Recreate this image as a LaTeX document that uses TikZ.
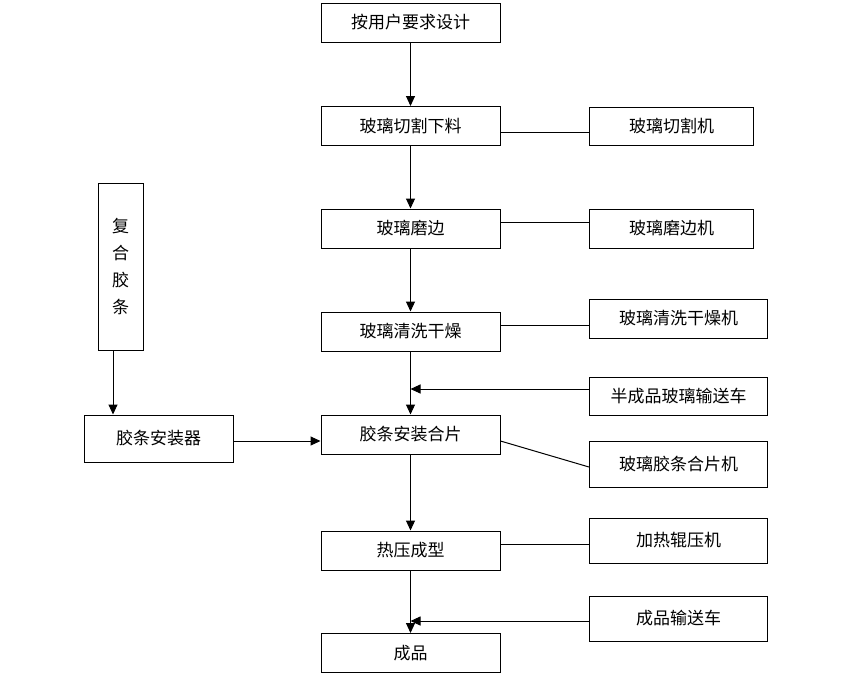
\documentclass[tikz,border=0pt]{standalone}
\usepackage{fontspec}
\setmainfont{Noto Sans CJK SC}
\usetikzlibrary{arrows.meta}
\tikzset{
	box/.style={draw, line width=1pt, inner sep=0pt},
	flow/.style={line width=1pt, -{Triangle[length=10pt,width=9pt]}},
	link/.style={line width=1pt},
}
\begin{document}
\begin{tikzpicture}[x=1pt,y=-1pt,font=\fontsize{17}{27}\selectfont]
\useasboundingbox (0,0) rectangle (850,681);

\foreach[count=\i] \y/\t in {
	22.5/按用户要求设计,126/玻璃切割下料,228.5/玻璃磨边,331.5/玻璃清洗干燥,%
	434.5/胶条安装合片,550.5/热压成型,653/成品%
}{
	\node[box, minimum width=179pt, minimum height=39pt](s\i) at(410.5,\y) {\t};
}

\foreach[count=\i from 2] \y/\w/\h/\t in {
	126/164/38/玻璃切割机,228.5/164/39/玻璃磨边机,318.5/178/39/玻璃清洗干燥机,%
	396/178/38/半成品玻璃输送车,464/178/46/玻璃胶条合片机,540.5/178/45/加热辊压机,%
	618.5/178/45/成品输送车%
}{
	\node[box, anchor=west, minimum width=\w pt, minimum height=\h pt](m\i) at(589,\y) {\t};
}

\node[box, minimum width=45pt, minimum height=167pt, align=center](c) at(120.5,266.5) {复\\合\\胶\\条};
\node[box, minimum width=149pt, minimum height=47pt](g) at(158.5,438.5) {胶条安装器};

\foreach \u \v in {
	1/2,2/3,3/4,4/5,5/6,6/7%
}{
	\draw[flow] (s\u) -- (s\v);
}

\draw[link] ([yshift=-6pt]s2.east) -- ([yshift=-6pt]s2.east -| m2.west);
\draw[link] ([yshift=6.5pt]s3.east) -- ([yshift=6.5pt]s3.east -| m3.west);
\draw[link] ([yshift=6.5pt]s4.east) -- ([yshift=6.5pt]s4.east -| m4.west);
\draw[flow] ([yshift=7pt]m5.west) -- ([yshift=7pt]m5.west -| s4.south);
\draw[link] ([yshift=-6.5pt]s5.east) -- ([yshift=-3pt]m6.west);
\draw[link] ([yshift=6.5pt]s6.east) -- ([yshift=6.5pt]s6.east -| m7.west);
\draw[flow] ([yshift=-2.5pt]m8.west) -- ([yshift=-2.5pt]m8.west -| s6.south);

\draw[flow] ([xshift=-7.5pt]c.south) -- ([xshift=-7.5pt]c.south |- g.north);
\draw[flow] ([yshift=-2.5pt]g.east) -- ([yshift=-2.5pt]g.east -| s5.west);
\end{tikzpicture}
\end{document}
